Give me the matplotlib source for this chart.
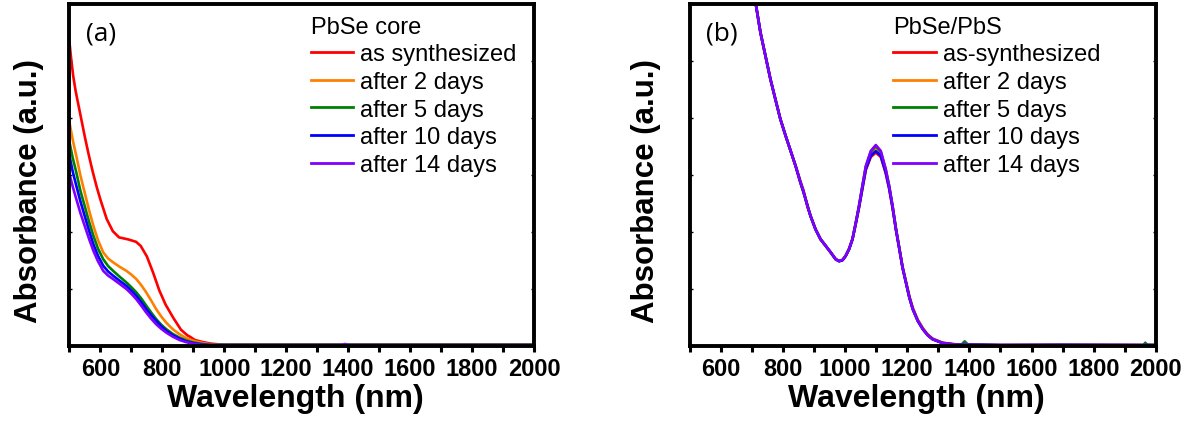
import matplotlib
matplotlib.use("Agg")
import matplotlib.pyplot as plt
from matplotlib.ticker import MultipleLocator

# ---- data (absorbance in arbitrary units, 0..1 = axis range)
labels_a = ["as synthesized", "after 2 days", "after 5 days", "after 10 days", "after 14 days"]
labels_b = ["as-synthesized", "after 2 days", "after 5 days", "after 10 days", "after 14 days"]
colors = ["#ff0000", "#ff8000", "#008000", "#0000ff", "#8000ff"]

# panel (a) PbSe core
red_a_x = [500, 506, 512, 520, 530, 540, 550, 562, 575, 588, 600, 620, 640, 660, 690, 715, 730,
           750, 770, 790, 810, 835, 860, 880, 890, 905, 930, 960, 1000, 1380, 1390, 1400, 2000]
red_a_y = [0.888, 0.835, 0.790, 0.745, 0.700, 0.655, 0.610, 0.560, 0.510, 0.465, 0.428, 0.372, 0.336,
           0.318, 0.312, 0.305, 0.293, 0.262, 0.215, 0.163, 0.122, 0.083, 0.048, 0.032, 0.027, 0.018,
           0.012, 0.007, 0.004, 0.004, 0.006, 0.004, 0.004]

orange_a_x = [500, 510, 522, 535, 549, 563, 577, 592, 609, 625, 641, 662, 684, 700, 716, 732, 748, 764,
              780, 796, 812, 833, 855, 876, 898, 925, 952, 1000, 2000]
orange_a_y = [0.654, 0.605, 0.556, 0.500, 0.449, 0.398, 0.352, 0.310, 0.274, 0.256, 0.245, 0.232, 0.220,
              0.209, 0.196, 0.178, 0.157, 0.133, 0.108, 0.087, 0.069, 0.050, 0.035, 0.024, 0.016, 0.010,
              0.006, 0.004, 0.004]

green_a_x = [500, 510, 522, 535, 549, 563, 577, 592, 609, 625, 641, 662, 684, 700, 716, 732, 748, 764,
             780, 796, 812, 833, 855, 876, 898, 925, 952, 1000, 2000]
green_a_y = [0.596, 0.552, 0.508, 0.455, 0.410, 0.364, 0.323, 0.285, 0.254, 0.234, 0.220, 0.203, 0.186,
             0.172, 0.157, 0.139, 0.118, 0.098, 0.079, 0.063, 0.050, 0.036, 0.025, 0.017, 0.011, 0.007,
             0.004, 0.004, 0.004]

blue_a_x = [500, 510, 522, 535, 549, 563, 577, 592, 609, 625, 641, 662, 684, 700, 716, 732, 748, 764,
            780, 796, 812, 833, 855, 876, 898, 925, 952, 1000, 2000]
blue_a_y = [0.556, 0.512, 0.469, 0.424, 0.381, 0.338, 0.298, 0.264, 0.235, 0.218, 0.206, 0.191, 0.176,
            0.162, 0.147, 0.128, 0.108, 0.090, 0.074, 0.058, 0.045, 0.032, 0.022, 0.014, 0.009, 0.005,
            0.003, 0.003, 0.003]

purple_a_x = [500, 510, 522, 535, 549, 563, 577, 592, 609, 625, 641, 662, 684, 700, 716, 732, 748, 764,
              780, 796, 812, 833, 855, 876, 898, 925, 952, 1000, 1380, 1390, 1400, 2000]
purple_a_y = [0.503, 0.468, 0.430, 0.390, 0.352, 0.314, 0.279, 0.248, 0.220, 0.206, 0.196, 0.182, 0.167,
              0.153, 0.137, 0.118, 0.098, 0.080, 0.064, 0.051, 0.040, 0.028, 0.018, 0.012, 0.007, 0.004,
              0.003, 0.003, 0.003, 0.006, 0.003, 0.003]

# panel (b) PbSe/PbS  (curves nearly overlap, peak heights differ slightly)
wl_b = [700, 713, 728, 744, 760, 776, 792, 809, 825, 841, 857, 866, 873, 880, 889, 905, 921, 938, 954,
        970, 981, 992, 1002, 1013, 1024, 1035, 1045, 1056, 1067, 1083, 1099, 1115, 1131, 1142, 1153,
        1164, 1175, 1185, 1196, 1207, 1218, 1234, 1250, 1266, 1282, 1314, 1358, 1375, 1385, 1395,
        1500, 1700, 1960, 1966, 1972, 2000]
red_b = [1.07, 1.00, 0.917, 0.849, 0.781, 0.722, 0.664, 0.615, 0.571, 0.527, 0.478, 0.452, 0.430, 0.408,
         0.381, 0.342, 0.313, 0.293, 0.274, 0.254, 0.249, 0.252, 0.264, 0.284, 0.313, 0.360, 0.405, 0.460,
         0.515, 0.553, 0.566, 0.553, 0.505, 0.460, 0.404, 0.340, 0.284, 0.232, 0.189, 0.146, 0.112, 0.077,
         0.053, 0.034, 0.022, 0.010, 0.005, 0.004, 0.006, 0.004, 0.003, 0.003, 0.003, 0.004, 0.003, 0.003]
orange_b = [1.07, 1.00, 0.917, 0.849, 0.781, 0.722, 0.664, 0.615, 0.571, 0.527, 0.482, 0.458, 0.433, 0.405,
            0.382, 0.342, 0.313, 0.293, 0.274, 0.254, 0.249, 0.252, 0.264, 0.284, 0.313, 0.362, 0.409,
            0.466, 0.522, 0.563, 0.578, 0.563, 0.512, 0.465, 0.408, 0.342, 0.285, 0.232, 0.188, 0.144,
            0.110, 0.076, 0.052, 0.033, 0.021, 0.010, 0.005, 0.004, 0.006, 0.004, 0.003, 0.003, 0.003,
            0.004, 0.003, 0.003]
green_b = [1.07, 1.00, 0.917, 0.849, 0.781, 0.722, 0.664, 0.615, 0.571, 0.527, 0.476, 0.450, 0.431, 0.410,
           0.380, 0.342, 0.313, 0.293, 0.274, 0.254, 0.249, 0.252, 0.264, 0.284, 0.313, 0.362, 0.410,
           0.469, 0.525, 0.568, 0.585, 0.568, 0.516, 0.468, 0.409, 0.342, 0.284, 0.230, 0.186, 0.142,
           0.108, 0.074, 0.050, 0.032, 0.020, 0.009, 0.004, 0.005, 0.014, 0.005, 0.003, 0.004, 0.003,
           0.010, 0.004, 0.003]
blue_b = [1.07, 1.00, 0.917, 0.849, 0.781, 0.722, 0.664, 0.615, 0.571, 0.527, 0.478, 0.454, 0.430, 0.407,
          0.381, 0.342, 0.313, 0.293, 0.274, 0.254, 0.248, 0.251, 0.263, 0.283, 0.312, 0.360, 0.406, 0.462,
          0.518, 0.557, 0.570, 0.557, 0.508, 0.462, 0.405, 0.340, 0.283, 0.230, 0.186, 0.142, 0.108, 0.074,
          0.050, 0.032, 0.020, 0.009, 0.004, 0.004, 0.005, 0.004, 0.003, 0.003, 0.003, 0.003, 0.003, 0.003]
purple_b = [1.07, 1.00, 0.917, 0.849, 0.781, 0.722, 0.664, 0.615, 0.571, 0.527, 0.478, 0.454, 0.430, 0.407,
            0.381, 0.342, 0.313, 0.293, 0.274, 0.254, 0.249, 0.252, 0.264, 0.284, 0.313, 0.362, 0.410,
            0.469, 0.527, 0.571, 0.588, 0.571, 0.518, 0.469, 0.410, 0.342, 0.284, 0.230, 0.186, 0.142,
            0.108, 0.074, 0.050, 0.032, 0.020, 0.009, 0.004, 0.004, 0.005, 0.004, 0.003, 0.004, 0.003,
            0.004, 0.003, 0.003]

series_a = [(red_a_x, red_a_y), (orange_a_x, orange_a_y), (green_a_x, green_a_y),
            (blue_a_x, blue_a_y), (purple_a_x, purple_a_y)]
series_b = [red_b, orange_b, green_b, blue_b, purple_b]

plt.rcParams["font.family"] = ["Liberation Sans", "DejaVu Sans"]

fig = plt.figure(figsize=(11.92, 4.27), dpi=100)
ax_a = fig.add_axes([0.0583, 0.187, 0.3897, 0.801])
ax_b = fig.add_axes([0.5785, 0.187, 0.3912, 0.801])

for (x, y), c, lab in zip(series_a, colors, labels_a):
    ax_a.plot(x, y, c=c, lw=1.9, label=lab)

for y, c, lab in zip(series_b, colors, labels_b):
    ax_b.plot(wl_b, y, c=c, lw=1.9, label=lab)


def style(a, tag, title, leg_x, ylab_x):
    a.set_xlim(500, 2000)
    a.set_ylim(0, 1)
    a.xaxis.set_major_locator(MultipleLocator(200))
    a.xaxis.set_minor_locator(MultipleLocator(100))
    a.yaxis.set_major_locator(MultipleLocator(1 / 6))
    a.set_yticklabels([])
    for s in a.spines.values():
        s.set_linewidth(2.8)
    a.tick_params(axis="x", which="both", direction="out", length=4, width=2.2,
                  labelsize=17, pad=4, top=False)
    a.tick_params(axis="y", which="major", direction="in", length=2, width=1,
                  left=True, right=True)
    for t in a.get_xticklabels():
        t.set_fontweight("bold")
    a.set_xlabel("Wavelength (nm)", fontsize=23, fontweight="bold")
    a.xaxis.set_label_coords(0.487, -0.108)
    a.set_ylabel("Absorbance (a.u.)", fontsize=22.5, fontweight="bold", va="center")
    a.yaxis.set_label_coords(ylab_x, 0.456)
    a.text(0.036, 0.915, tag, transform=a.transAxes, fontsize=19,
           family="Open Sans", va="center", ha="left")
    leg = a.legend(title=title, loc="upper left", bbox_to_anchor=(leg_x, 0.966),
                   frameon=False, fontsize=17, title_fontsize=17, handlelength=1.8,
                   handletextpad=0.3, labelspacing=0.24, borderpad=0, borderaxespad=0,
                   alignment="left")
    for line in leg.get_lines():
        line.set_linewidth(2)


style(ax_a, "(a)", "PbSe core", 0.519, -0.087)
style(ax_b, "(b)", "PbSe/PbS", 0.437, -0.093)

fig.savefig("out.png", dpi=100)
